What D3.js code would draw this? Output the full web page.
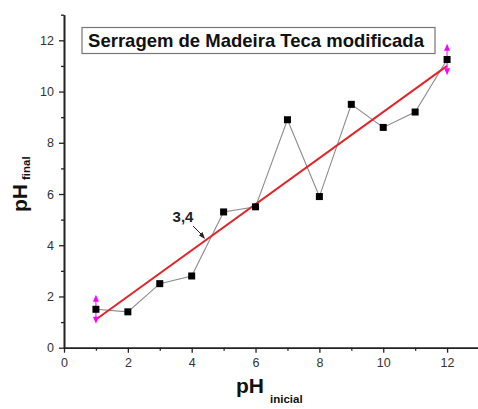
<!DOCTYPE html>
<html><head><meta charset="utf-8">
<script src="https://cdn.jsdelivr.net/npm/d3@7"></script>
<style>body{margin:0;background:#fff}svg{display:block}</style>
</head><body>
<script>
const phInicial = [1,2,3,4,5,6,7,8,9,10,11,12];
const phFinal = [1.5,1.4,2.5,2.8,5.3,5.5,8.9,5.9,9.5,8.6,9.2,11.25];
const fitX = [1,12];
const fitY = [1.1,11.0];
const errX = [1,12];
const errY = [1.5,11.25];
const errSize = [0.45,0.5];
const majorTicks = [0,2,4,6,8,10,12];
const minorTicks = [1,3,5,7,9,11,13];
const title = "Serragem de Madeira Teca modificada";
const annotation = "3,4";

const W=478,H=409;
const svg=d3.select("body").append("svg").attr("width",W).attr("height",H);
const x=d3.scaleLinear().domain([0,13]).range([64,479]);
const y=d3.scaleLinear().domain([0,13]).range([347.7,14.7]);
const font="Arial, 'Liberation Sans', sans-serif";

// axes
const xa=svg.append("g").attr("transform",`translate(0,${y(0)})`)
  .call(d3.axisBottom(x).tickValues(majorTicks).tickSize(5).tickSizeOuter(0).tickPadding(5));
const xm=svg.append("g").attr("transform",`translate(0,${y(0)})`)
  .call(d3.axisBottom(x).tickValues(minorTicks).tickSize(3).tickSizeOuter(0).tickFormat(""));
const ya=svg.append("g").attr("transform",`translate(${x(0)},0)`)
  .call(d3.axisLeft(y).tickValues(majorTicks).tickSize(5).tickSizeOuter(0).tickPadding(5));
const ym=svg.append("g").attr("transform",`translate(${x(0)},0)`)
  .call(d3.axisLeft(y).tickValues(minorTicks).tickSize(3).tickSizeOuter(0).tickFormat(""));
[xa,xm,ya,ym].forEach(g=>{
  g.select(".domain").attr("stroke","#222").attr("stroke-width",1.6);
  g.selectAll(".tick line").attr("stroke","#222").attr("stroke-width",1.3);
  g.selectAll("text").attr("font-family",font).attr("font-size",12.5).attr("fill","#333");
});

// data line
const line=d3.line().x((d,i)=>x(phInicial[i])).y(d=>y(d));
svg.append("path").datum(phFinal).attr("d",line).attr("fill","none").attr("stroke","#8a8a8a").attr("stroke-width",1.1);

// fit line
svg.append("line").attr("x1",x(fitX[0])).attr("y1",y(fitY[0])).attr("x2",x(fitX[1])).attr("y2",y(fitY[1]))
  .attr("stroke","#e0262a").attr("stroke-width",2);

// error bars (magenta arrows)
errX.forEach((xv,i)=>{
  const cx=x(xv), top=y(errY[i]+errSize[i]), bot=y(errY[i]-errSize[i]);
  svg.append("line").attr("x1",cx).attr("x2",cx).attr("y1",top).attr("y2",bot).attr("stroke","#ff00ff").attr("stroke-width",1);
  svg.append("path").attr("d",`M${cx},${top-3}L${cx-3},${top+4}L${cx+3},${top+4}Z`).attr("fill","#ff00ff");
  svg.append("path").attr("d",`M${cx},${bot+3}L${cx-3},${bot-4}L${cx+3},${bot-4}Z`).attr("fill","#ff00ff");
});

// markers
svg.selectAll("rect.pt").data(phFinal).enter().append("rect").attr("class","pt")
  .attr("x",(d,i)=>x(phInicial[i])-3.5).attr("y",d=>y(d)-3.5).attr("width",7).attr("height",7).attr("fill","#000");

// title box
svg.append("rect").attr("x",82).attr("y",27.5).attr("width",353).attr("height",26).attr("fill","#fff").attr("stroke","#777").attr("stroke-width",1.2);
svg.append("text").attr("x",256).attr("y",47).attr("text-anchor","middle").attr("font-family",font).attr("font-weight","bold").attr("font-size",18.5).attr("fill","#111").text(title);

// annotation
svg.append("text").attr("x",183).attr("y",222).attr("text-anchor","middle").attr("font-family",font).attr("font-weight","bold").attr("font-size",15).attr("fill","#222").text(annotation);
svg.append("line").attr("x1",193).attr("y1",226).attr("x2",203).attr("y2",236).attr("stroke","#222").attr("stroke-width",1);
svg.append("path").attr("d","M205,239L199,235.5L202.5,232Z").attr("fill","#222");

// axis labels
const xl=svg.append("text").attr("x",236).attr("y",393).attr("font-family",font).attr("font-weight","bold").attr("fill","#111");
xl.append("tspan").attr("font-size",21).text("pH");
xl.append("tspan").attr("font-size",11.5).attr("dx",6).attr("dy",10).text("inicial");
const yl=svg.append("text").attr("transform","translate(27,212) rotate(-90)").attr("font-family",font).attr("font-weight","bold").attr("fill","#111");
yl.append("tspan").attr("font-size",21).text("pH");
yl.append("tspan").attr("font-size",11.5).attr("dx",4).attr("dy",3).text("final");
</script>
</body></html>
